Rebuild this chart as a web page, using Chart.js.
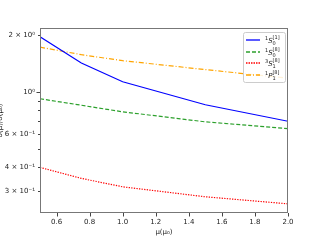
<!DOCTYPE html>
<html><head><meta charset="utf-8">
<script src="https://cdn.jsdelivr.net/npm/chart.js@4.4.1/dist/chart.umd.min.js"></script>
<style>html,body{margin:0;padding:0;background:#fff;}#wrap{width:320px;height:240px;}</style>
</head><body><div id="wrap"><canvas id="c" width="320" height="240"></canvas></div>
<script>
const muValues = [0.5, 0.75, 1.0, 1.5, 2.0];
const s0Singlet = [1.95, 1.42, 1.13, 0.855, 0.70];
const s0Octet = [0.92, 0.85, 0.785, 0.695, 0.64];
const s1Octet = [0.40, 0.35, 0.316, 0.28, 0.257];
const p1Octet = [1.72, 1.57, 1.46, 1.31, 1.18];
const xTickValues = [0.6, 0.8, 1.0, 1.2, 1.4, 1.6, 1.8, 2.0];
const yTickValues = [0.3, 0.4, 0.5, 0.6, 0.7, 0.8, 0.9, 1, 2];
const yTickLabels = {0.3: '3 × 10⁻¹', 0.4: '4 × 10⁻¹', 0.6: '6 × 10⁻¹', 1: '10⁰', 2: '2 × 10⁰'};
// legend label parts: [pre-superscript, letter, subscript, superscript]
const seriesLabels = [['1','S','0','[1]'], ['1','S','0','[8]'], ['3','S','1','[8]'], ['1','P','1','[8]']];
const xTitle = 'μ(μ₀)';
const yTitle = 'σ(μ)/σ(μ₀)';

const FONT = '"DejaVu Sans", sans-serif';
const styles = [
  {color:'#0000ff', dash:[], width:1.2},
  {color:'#2ca02c', dash:[4,2], width:1.2},
  {color:'#ff0000', dash:[1.3,1.3], width:1.2},
  {color:'#ffa500', dash:[5,2,1,2], width:1.2}
];
const series = [s0Singlet, s0Octet, s1Octet, p1Octet];

const decor = {
  id: 'decor',
  afterDraw(chart) {
    const ctx = chart.ctx, a = chart.chartArea;
    const xs = chart.scales.x, ys = chart.scales.y;
    ctx.save();
    ctx.setLineDash([]);
    // frame
    ctx.strokeStyle = '#777'; ctx.lineWidth = 1;
    ctx.strokeRect(Math.round(a.left)+0.5, Math.round(a.top)+0.5, Math.round(a.right-a.left)-1, Math.round(a.bottom-a.top)-1);
    // ticks
    ctx.strokeStyle = '#444';
    ctx.beginPath();
    xTickValues.forEach(v => { const px = Math.round(xs.getPixelForValue(v))+0.5; ctx.moveTo(px, a.bottom); ctx.lineTo(px, a.bottom+3.5); });
    yTickValues.forEach(v => { const py = Math.round(ys.getPixelForValue(v))+0.5; const L = (v===1)?3.5:2; ctx.moveTo(a.left, py); ctx.lineTo(a.left-L, py); });
    ctx.stroke();
    // y title (clipped at left edge)
    ctx.save();
    ctx.translate(1.5, (a.top+a.bottom)/2);
    ctx.rotate(-Math.PI/2);
    ctx.fillStyle = '#222'; ctx.font = '7px ' + FONT; ctx.textAlign = 'center'; ctx.textBaseline = 'alphabetic';
    ctx.fillText(yTitle, 0, 0);
    ctx.restore();
    // legend
    const bx = 243, by = 32, bw = 42, bh = 50;
    ctx.fillStyle = 'rgba(255,255,255,0.85)';
    ctx.strokeStyle = '#ccc'; ctx.lineWidth = 1;
    ctx.beginPath(); ctx.roundRect(bx+0.5, by+0.5, bw, bh, 2); ctx.fill(); ctx.stroke();
    const rowY = [40, 52, 63, 75];
    seriesLabels.forEach((parts, i) => {
      const st = styles[i], y = rowY[i];
      ctx.strokeStyle = st.color; ctx.lineWidth = 1.3; ctx.setLineDash(i === 2 ? [1.5, 1] : st.dash);
      ctx.beginPath(); ctx.moveTo(246, y); ctx.lineTo(260, y); ctx.stroke();
      ctx.setLineDash([]);
      ctx.fillStyle = '#222'; ctx.textAlign = 'left'; ctx.textBaseline = 'alphabetic';
      let x = 265;
      ctx.font = '5px ' + FONT; ctx.fillText(parts[0], x, y-0.5); x += ctx.measureText(parts[0]).width;
      ctx.font = 'italic 7px ' + FONT; ctx.fillText(parts[1], x, y+2.5); x += ctx.measureText(parts[1]).width;
      ctx.font = '5px ' + FONT; ctx.fillText(parts[2], x, y+4.5); ctx.fillText(parts[3], x, y-1.5);
    });
    ctx.restore();
  }
};

new Chart(document.getElementById('c'), {
  type: 'line',
  data: {
    labels: muValues,
    datasets: series.map((d, i) => ({
      label: seriesLabels[i].join(''),
      data: muValues.map((m, j) => ({x: m, y: d[j]})),
      borderColor: styles[i].color, borderDash: styles[i].dash, borderWidth: styles[i].width,
      pointRadius: 0, fill: false, tension: 0
    }))
  },
  options: {
    responsive: false, animation: false,
    layout: {padding: {left: 0, right: 32, top: 28, bottom: 0}},
    plugins: {legend: {display: false}, tooltip: {enabled: false}},
    scales: {
      x: {
        type: 'linear', min: 0.5, max: 2.0,
        afterBuildTicks: s => { s.ticks = xTickValues.map(v => ({value: v})); },
        afterFit: s => { s.height = 27; },
        grid: {display: false, drawTicks: false}, border: {display: false},
        ticks: {font: {family: FONT, size: 7}, color: '#222', padding: 5, maxRotation: 0, autoSkip: false, callback: v => v.toFixed(1)},
        title: {display: true, text: xTitle, font: {family: FONT, size: 7}, color: '#222', padding: {top: 1, bottom: 4}}
      },
      y: {
        type: 'logarithmic', min: 0.23, max: 2.17,
        afterBuildTicks: s => { s.ticks = yTickValues.map(v => ({value: v})); },
        afterFit: s => { s.width = 40; },
        grid: {display: false, drawTicks: false}, border: {display: false},
        ticks: {font: {family: FONT, size: 7}, color: '#222', padding: 5, autoSkip: false, callback: v => yTickLabels[v] || ''}
      }
    }
  },
  plugins: [decor]
});
</script></body></html>
